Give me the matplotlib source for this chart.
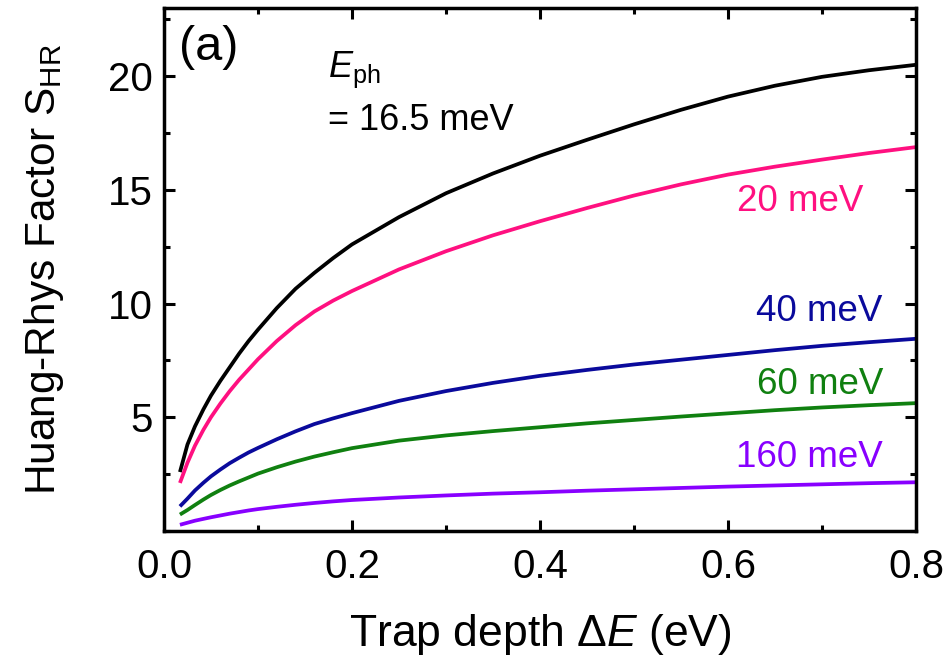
import matplotlib
matplotlib.use("Agg")
import matplotlib.pyplot as plt
from matplotlib.ticker import MultipleLocator

plt.rcParams['font.family'] = ['Liberation Sans', 'DejaVu Sans']
plt.rcParams['mathtext.fontset'] = 'custom'
plt.rcParams['mathtext.rm'] = 'Liberation Sans'
plt.rcParams['mathtext.it'] = 'Liberation Sans:italic'
plt.rcParams['mathtext.bf'] = 'Liberation Sans:bold'

# Trap depth (eV)
trap_depth = [0.017, 0.025, 0.033, 0.042, 0.05, 0.06, 0.07, 0.08, 0.09, 0.1,
              0.12, 0.14, 0.16, 0.18, 0.2, 0.25, 0.3, 0.35, 0.4, 0.45,
              0.5, 0.55, 0.6, 0.65, 0.7, 0.75, 0.8]

# Huang-Rhys factor for each phonon energy
s_16p5 = [2.59, 3.8, 4.6, 5.35, 5.95, 6.6, 7.2, 7.8, 8.35, 8.85,
          9.8, 10.65, 11.35, 12.0, 12.6, 13.8, 14.85, 15.72, 16.5, 17.2,
          17.88, 18.52, 19.1, 19.58, 19.97, 20.26, 20.5]
s_20 = [2.11, 3.0, 3.75, 4.45, 5.0, 5.6, 6.15, 6.65, 7.1, 7.55,
        8.35, 9.05, 9.65, 10.13, 10.55, 11.5, 12.3, 13.0, 13.62, 14.2,
        14.75, 15.24, 15.67, 16.02, 16.33, 16.62, 16.88]
s_40 = [1.08, 1.42, 1.78, 2.12, 2.4, 2.7, 2.98, 3.22, 3.45, 3.65,
        4.03, 4.38, 4.7, 4.95, 5.18, 5.72, 6.15, 6.51, 6.82, 7.08,
        7.32, 7.53, 7.74, 7.95, 8.14, 8.3, 8.45]
s_60 = [0.72, 0.92, 1.14, 1.38, 1.58, 1.8, 2.0, 2.18, 2.35, 2.52,
        2.8, 3.05, 3.27, 3.46, 3.64, 3.97, 4.2, 4.39, 4.56, 4.73,
        4.88, 5.03, 5.17, 5.31, 5.43, 5.53, 5.62]
s_160 = [0.27, 0.36, 0.45, 0.53, 0.6, 0.68, 0.76, 0.83, 0.9, 0.96,
         1.06, 1.15, 1.23, 1.3, 1.36, 1.47, 1.56, 1.64, 1.7, 1.77,
         1.83, 1.89, 1.95, 2.0, 2.05, 2.1, 2.14]

series = [s_16p5, s_20, s_40, s_60, s_160]
colors = ['#000000', '#FF1080', '#0A0A9C', '#108010', '#8800FF']
labels = ['', '20 meV', '40 meV', '60 meV', '160 meV']
label_pos = [None, (0.744, 14.07), (0.764, 9.23), (0.765, 6.01), (0.765, 2.79)]

fig = plt.figure(figsize=(9.45, 6.62), dpi=100)
ax = fig.add_axes([0.1735, 0.198, 0.7958, 0.790])

for s, c in zip(series, colors):
    ax.plot(trap_depth, s, color=c, lw=2.7, solid_capstyle='butt',
            solid_joinstyle='round')

for lab, pos, c in zip(labels, label_pos, colors):
    if lab:
        ax.text(pos[0], pos[1], lab, color=c, fontsize=26.5, ha='right', va='baseline')

ax.text(0.02, 0.968, '(a)', transform=ax.transAxes, fontsize=35, ha='left', va='top')
ax.text(0.175, 19.95, r'$E_\mathrm{ph}$', fontsize=26, ha='left', va='baseline')
ax.text(0.175, 17.64, '= 16.5 meV', fontsize=26, ha='left', va='baseline')

ax.set_xlim(0, 0.8)
ax.set_ylim(0, 23)
ax.xaxis.set_minor_locator(MultipleLocator(0.1))
ax.yaxis.set_minor_locator(MultipleLocator(2.5))
ax.set_xticks([0.0, 0.2, 0.4, 0.6, 0.8])
ax.set_xticklabels(['0.0', '0.2', '0.4', '0.6', '0.8'])
ax.set_yticks([5, 10, 15, 20])

ax.tick_params(which='both', direction='in', top=True, right=True, width=2.2)
ax.tick_params(which='major', length=8, labelsize=29)
ax.tick_params(which='minor', length=4.5)
ax.tick_params(axis='x', which='major', pad=12)
ax.tick_params(axis='y', which='major', pad=8)
for sp in ax.spines.values():
    sp.set_linewidth(2.5)

ax.set_xlabel(r'Trap depth $\Delta E$ (eV)', fontsize=32, labelpad=19)
ax.set_ylabel(r'Huang-Rhys Factor $\mathrm{S_{HR}}$', fontsize=30.5, labelpad=30)

fig.savefig('out.png', dpi=100)
